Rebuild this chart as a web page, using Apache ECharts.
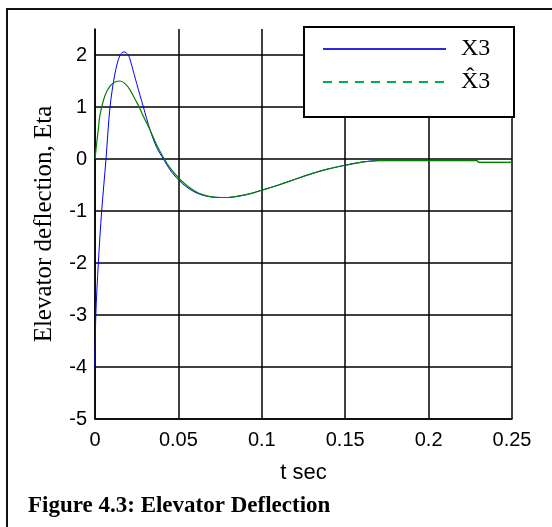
<!DOCTYPE html>
<html>
<head>
<meta charset="utf-8">
<script src="https://cdn.jsdelivr.net/npm/echarts@6/dist/echarts.min.js"></script>
<style>
  html, body { margin: 0; padding: 0; background: #fff; }
  #chart { width: 552px; height: 527px; }
</style>
</head>
<body>
<div id="chart"></div>
<script>
// values
const tX3 = [0, 0.0005, 0.002, 0.004, 0.0066, 0.009, 0.012, 0.015, 0.0174, 0.02, 0.022, 0.025, 0.029,
  0.033, 0.037, 0.041, 0.045, 0.05, 0.055, 0.06, 0.065, 0.07, 0.075, 0.08, 0.085, 0.09, 0.095,
  0.1, 0.11, 0.12, 0.13, 0.14, 0.15, 0.16, 0.17, 0.18, 0.19, 0.2, 0.21, 0.22, 0.229, 0.23, 0.24, 0.25];
const x3 = [-4, -3, -2, -1, 0, 1, 1.65, 2.0, 2.06, 2.0, 1.8, 1.45, 1.0,
  0.56, 0.22, 0.0, -0.21, -0.40, -0.54, -0.64, -0.70, -0.73, -0.74, -0.74, -0.72, -0.69, -0.65,
  -0.60, -0.50, -0.39, -0.28, -0.19, -0.12, -0.06, -0.03, -0.03, -0.03, -0.03, -0.03, -0.03, -0.03, -0.065, -0.065, -0.065];

const tX3hat = [0, 0.001, 0.002, 0.003, 0.006, 0.009, 0.012, 0.015, 0.018, 0.021, 0.024, 0.0265, 0.029,
  0.033, 0.037, 0.041, 0.045, 0.05, 0.055, 0.06, 0.065, 0.07, 0.075, 0.08, 0.085, 0.09, 0.095,
  0.1, 0.11, 0.12, 0.13, 0.14, 0.15, 0.16, 0.17, 0.18, 0.19, 0.2, 0.21, 0.22, 0.229, 0.23, 0.24, 0.25];
const x3hat = [0, 0.3, 0.58, 0.85, 1.22, 1.4, 1.48, 1.50, 1.45, 1.33, 1.15, 1.0, 0.82,
  0.56, 0.27, 0.03, -0.17, -0.36, -0.51, -0.62, -0.69, -0.73, -0.74, -0.74, -0.72, -0.69, -0.65,
  -0.60, -0.50, -0.39, -0.28, -0.19, -0.12, -0.06, -0.03, -0.03, -0.03, -0.03, -0.03, -0.03, -0.03, -0.065, -0.065, -0.065];

const seriesNames = ["X3", "X\u03023"];

const pair = (ts, vs) => ts.map((t, i) => [t, vs[i]]);

const chart = echarts.init(document.getElementById("chart"));

const sans = "Liberation Sans, Arial, sans-serif";
const serif = "Liberation Serif, Times New Roman, serif";

chart.setOption({
  animation: false,
  backgroundColor: "#fff",
  grid: { left: 95, top: 29, right: 40, bottom: 108 },
  xAxis: {
    type: "value",
    min: 0,
    max: 0.25,
    interval: 0.05,
    name: "t sec",
    nameLocation: "middle",
    nameGap: 43,
    nameTextStyle: { fontFamily: sans, fontSize: 22, color: "#000" },
    axisLine: { onZero: false, lineStyle: { color: "#000", width: 1.5 } },
    axisTick: { show: false },
    axisLabel: { fontFamily: sans, fontSize: 20, color: "#000", margin: 11 },
    splitLine: { show: true, lineStyle: { color: "#000", width: 1.5 } }
  },
  yAxis: {
    type: "value",
    min: -5,
    max: 2.5,
    interval: 1,
    name: "Elevator deflection, Eta",
    nameLocation: "middle",
    nameGap: 38,
    nameTextStyle: { fontFamily: serif, fontSize: 25, color: "#000" },
    axisLine: { onZero: false, lineStyle: { color: "#000", width: 1.5 } },
    axisTick: { show: false },
    axisLabel: {
      fontFamily: sans, fontSize: 20, color: "#000", margin: 8,
      formatter: (v) => (Number.isInteger(v) ? String(v) : "")
    },
    splitLine: { show: true, showMaxLine: false, lineStyle: { color: "#000", width: 1.5 } }
  },
  legend: {
    orient: "vertical",
    left: 322,
    top: 36,
    padding: 0,
    itemWidth: 123,
    itemHeight: 24,
    itemGap: 7,
    z: 10,
    textStyle: { fontFamily: serif, fontSize: 24, color: "#000", lineHeight: 24, padding: [2, 0, 0, 10] },
    data: [
      { name: seriesNames[0], itemStyle: { opacity: 0 }, lineStyle: { color: "#2a2ae0", width: 2 } },
      { name: seriesNames[1], itemStyle: { opacity: 0 }, lineStyle: { color: "#00b050", width: 2, type: [9, 7] } }
    ]
  },
  graphic: [
    {
      type: "rect",
      z: 5,
      shape: { x: 304, y: 27, width: 210, height: 90 },
      style: { fill: "#fff", stroke: "#000", lineWidth: 2 }
    },
    {
      type: "rect",
      z: 5,
      shape: { x: 7, y: 9, width: 700, height: 700 },
      style: { fill: null, stroke: "#111", lineWidth: 2 }
    },
    {
      type: "text",
      z: 5,
      left: 28,
      top: 495,
      style: {
        text: "Figure 4.3: Elevator Deflection",
        font: "bold 23px Liberation Serif, Times New Roman, serif",
        fill: "#000"
      }
    }
  ],
  series: [
    {
      name: seriesNames[0],
      type: "line",
      showSymbol: false,
      symbol: "none",
      smooth: 0.3,
      data: pair(tX3, x3),
      lineStyle: { color: "#0000ff", width: 1 },
      itemStyle: { color: "#0000ff" }
    },
    {
      name: seriesNames[1],
      type: "line",
      showSymbol: false,
      symbol: "none",
      smooth: 0.3,
      data: pair(tX3hat, x3hat),
      lineStyle: { color: "#008000", width: 1.2 },
      itemStyle: { color: "#008000" }
    }
  ]
});
</script>
</body>
</html>
